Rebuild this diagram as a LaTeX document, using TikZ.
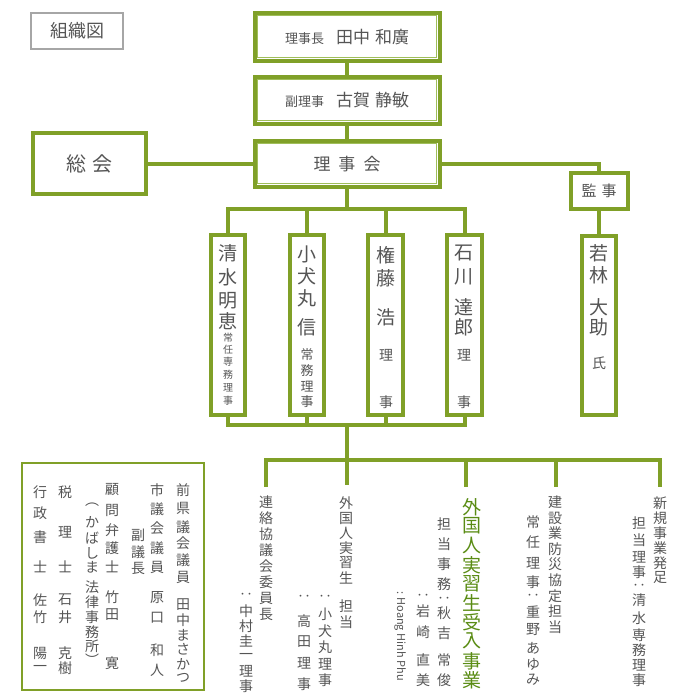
\documentclass[tikz,border=0pt]{standalone}
\usepackage{fontspec}
\setmainfont{Noto Sans CJK JP}
\definecolor{gr}{RGB}{128,160,40}
\definecolor{grl}{RGB}{160,190,90}
\definecolor{gtx}{RGB}{85,85,85}
\definecolor{gtitle}{RGB}{90,140,20}
\newcommand\fs[1]{\fontsize{#1}{#1}\selectfont}
\newcommand\vcolumn[3]{\foreach \yy/\cc in {#3} {\node[vch,#1] at (#2,\yy) {\cc};}}
\begin{document}
\begin{tikzpicture}[x=1pt,y=-1pt,
  box/.style={draw=gr,line width=4pt,fill=white,inner sep=0pt,text=gtx},
  conn/.style={draw=gr,line width=4pt},
  vch/.style={inner sep=0pt,text=gtx,font=\fs{14}}]
\useasboundingbox (0,0) rectangle (700,700);
% title
\node[draw=gray!70,line width=2pt,minimum width=92pt,minimum height=36pt,text=gtx,font=\fs{18}] (title) at (77,31) {組織図};
% connectors first (behind boxes)
\coordinate (b1) at (347,209);
\coordinate (b2) at (347,425);
\coordinate (b3) at (347,460);
% top boxes
\node[box,minimum width=185pt,minimum height=48pt] (ch) at (347,37) {{\fs{13}理事長}\hspace{12pt}{\fs{17}田中\hspace{5pt}和廣}};
\node[box,minimum width=185pt,minimum height=47pt] (fu) at (347,100.5) {{\fs{13}副理事}\hspace{12pt}{\fs{17}古賀\hspace{5pt}静敏}};
\node[box,minimum width=185pt,minimum height=46pt] (rj) at (347,164) {\fs{17}理\hspace{8pt}事\hspace{8pt}会};
\foreach \n in {ch,fu,rj}{\draw[grl,line width=1pt] ([shift={(5,5)}]\n.north west) rectangle ([shift={(-5,-5)}]\n.south east);}
\node[box,minimum width=113pt,minimum height=61pt,font=\fs{20}] (zk) at (89.5,164) {総\hspace{6pt}会};
\node[box,minimum width=57pt,minimum height=36pt,font=\fs{15}] (kj) at (599,191) {監\hspace{5pt}事};
% vertical boxes
\node[box,minimum width=34pt,minimum height=180pt] (s1) at (228,325) {};
\node[box,minimum width=34pt,minimum height=180pt] (s2) at (307,325) {};
\node[box,minimum width=35pt,minimum height=180pt] (s3) at (385.5,325) {};
\node[box,minimum width=35pt,minimum height=180pt] (s4) at (464.5,325) {};
\node[box,minimum width=34pt,minimum height=179pt] (wk) at (599,325.5) {};
% connectors
\draw[conn] (ch.south) -- (fu.north);
\draw[conn] (fu.south) -- (rj.north);
\draw[conn] (zk.east) -- (rj.west);
\draw[conn] (rj.east) -| (kj.north);
\draw[conn] (kj.south) -- (wk.north);
\draw[conn] (rj.south) -- (b1);
\foreach \s in {s1,s2,s3,s4}{\draw[conn,line cap=rect] (\s.north) |- (b1); \draw[conn,line cap=rect] (\s.south) |- (b2);}
\draw[conn] (b2) -- (b3);
\coordinate (d1) at (266,485);
\coordinate (d2) at (347,485);
\coordinate (d3) at (466,485);
\coordinate (d4) at (556,485);
\coordinate (d5) at (660,485);
\foreach \d in {d1,d3,d4,d5}{\draw[conn,line cap=rect] (\d) |- (b3);}
\draw[conn] (b3) -- (d2);
% left box
\node[draw=gr,line width=2pt,minimum width=182pt,minimum height=227pt,inner sep=0pt] (lb) at (113,576.5) {};
% texts in vertical boxes
\vcolumn{font=\fs{19}}{228}{253/清,277/水,301/明,321/恵}
\vcolumn{font=\fs{10}}{228}{338/常,350/任,362/専,375/務,388/理,401/事}
\vcolumn{font=\fs{19}}{307}{254/小,276/犬,298/丸,327/信}
\vcolumn{font=\fs{13}}{307}{355/常,371/務,387/理,402/事}
\vcolumn{font=\fs{19}}{386}{255/権,278/藤,317/浩}
\vcolumn{}{386}{355/理,402/事}
\vcolumn{font=\fs{19}}{464}{253/石,277/川,307/達,327/郎}
\vcolumn{}{464}{355/理,402/事}
\vcolumn{font=\fs{19}}{599}{253/若,275/林,307/大,327/助}
\vcolumn{}{599}{363/氏}
% bottom columns
\vcolumn{}{266}{502/連,518/絡,534/協,550/議,566/会,582/委,598/員,614/長}
\vcolumn{}{246}{596/‥,611/中,626/村,641/圭,656/一,671/理,686/事}
\vcolumn{}{346}{503/外,518/国,533/人,548/実,563/習,578/生,606/担,622/当}
\vcolumn{}{325}{598/‥,614/小,631/犬,647/丸,664/理,680/事}
\vcolumn{}{304}{598/‥,621/高,642/田,663/理,684/事}
\vcolumn{font=\fs{19},text=gtitle}{472}{507/外,526/国,545/人,565/実,584/習,603/生,622/受,641/入,661/事,680/業}
\vcolumn{}{444}{524/担,544/当,564/事,584/務,600/‥,613/秋,633/吉,660/常,680/俊}
\vcolumn{}{423}{597/‥,611/岩,632/崎,660/直,680/美}
\node[rotate=-90,anchor=west,inner sep=0pt,text=gtx,font=\fs{11}] (hh) at (400,591) {: Hoang Hinh Phu};
\vcolumn{}{555}{502/建,518/設,533/業,549/防,564/災,580/協,596/定,611/担,627/当}
\vcolumn{}{533}{522/常,542/任,563/理,582/事,597/‥,612/重,630/野,648/あ,664/ゆ,680/み}
\vcolumn{}{660}{503/新,518/規,533/事,548/業,563/発,578/足}
\vcolumn{}{639}{523/担,540/当,557/理,572/事,587/‥,600/清,618/水,635/専,650/務,665/理,680/事}
% left box columns
\vcolumn{font=\fs{14}}{183}{490/前,508/県,527/議,543/会,560/議,577/員,605/田,620/中,635/ま,649/さ,664/か,678/つ}
\vcolumn{font=\fs{14}}{157}{490/市,509/議,528/会,548/議,567/員,598/原,618/口,650/和,670/人}
\vcolumn{font=\fs{14}}{138}{535/副,552/議,568/長}
\vcolumn{font=\fs{14}}{112}{490/顧,510/問,530/弁,548/護,567/士,597/竹,615/田,663/寛}
\vcolumn{font=\fs{14}}{92}{505/︵,522/か,538/ば,553/し,567/ま,587/法,602/律,617/事,632/務,646/所,660/︶}
\vcolumn{font=\fs{14}}{65}{492/税,532/理,567/士,600/石,617/井,653/克,668/樹}
\vcolumn{font=\fs{14}}{40}{492/行,513/政,537/書,567/士,600/佐,617/竹,653/陽,668/一}
\end{tikzpicture}
\end{document}
